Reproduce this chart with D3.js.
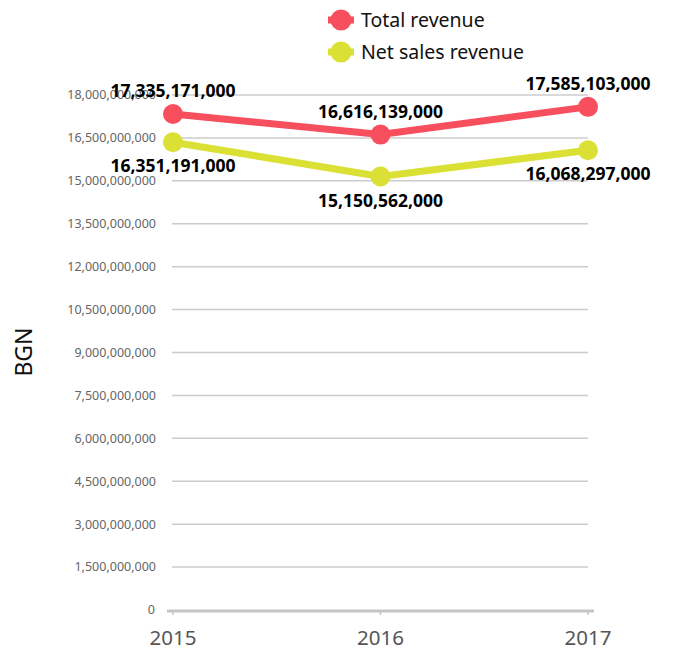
<!DOCTYPE html>
<html>
<head>
<meta charset="utf-8">
<script src="https://cdn.jsdelivr.net/npm/d3@7"></script>
<style>
  body { margin: 0; background: #fff; }
  svg { display: block; font-family: "Noto Sans", sans-serif; }
</style>
</head>
<body>
<div id="chart"></div>
<script>
// chart data
const years = ["2015", "2016", "2017"];
const totalRevenue = [17335171000, 16616139000, 17585103000];
const netSalesRevenue = [16351191000, 15150562000, 16068297000];
const seriesNames = ["Total revenue", "Net sales revenue"];
const seriesColors = ["#f74f5d", "#dae034"];
const yTicks = [0, 1500000000, 3000000000, 4500000000, 6000000000, 7500000000,
  9000000000, 10500000000, 12000000000, 13500000000, 15000000000, 16500000000, 18000000000];

const width = 673, height = 651;
const margin = { top: 95, bottom: 41, left: 173, right: 85 };

const svg = d3.select("#chart").append("svg")
  .attr("width", width)
  .attr("height", height);

// scales
const x = d3.scalePoint()
  .domain(years)
  .range([margin.left, width - margin.right]);

const y = d3.scaleLinear()
  .domain([0, 18000000000])
  .range([height - margin.bottom, margin.top]);

// grid lines
svg.append("g")
  .selectAll("line")
  .data(yTicks.filter(d => d > 0))
  .join("line")
  .attr("x1", x("2015") - 1)
  .attr("x2", x("2017"))
  .attr("y1", d => y(d))
  .attr("y2", d => y(d))
  .attr("stroke", "#cccccc")
  .attr("stroke-width", 1.5);

// y tick labels
svg.append("g")
  .selectAll("text")
  .data(yTicks)
  .join("text")
  .attr("x", d => d === 0 ? 155 : 156)
  .attr("y", d => y(d))
  .attr("dy", "0.35em")
  .attr("text-anchor", "end")
  .attr("fill", "#666")
  .style("font-size", "12.5px")
  .text(d => d3.format(",")(d));

// baseline and ticks
svg.append("line")
  .attr("x1", x("2015") - 6)
  .attr("x2", x("2017") + 6)
  .attr("y1", y(0) + 1)
  .attr("y2", y(0) + 1)
  .attr("stroke", "#c4c4c4")
  .attr("stroke-width", 3);

svg.append("g")
  .selectAll("line")
  .data(years)
  .join("line")
  .attr("x1", d => x(d))
  .attr("x2", d => x(d))
  .attr("y1", y(0) + 1)
  .attr("y2", y(0) + 5)
  .attr("stroke", "#c4c4c4")
  .attr("stroke-width", 1.5);

// x labels
svg.append("g")
  .selectAll("text")
  .data(years)
  .join("text")
  .attr("x", d => x(d))
  .attr("y", 645)
  .attr("text-anchor", "middle")
  .attr("fill", "#555")
  .style("font-size", "20.5px")
  .text(d => d);

// y axis title
svg.append("text")
  .attr("transform", "translate(32, 352) rotate(-90)")
  .attr("text-anchor", "middle")
  .attr("fill", "#111")
  .style("font-size", "23px")
  .text("BGN");

// series
const series = [totalRevenue, netSalesRevenue];
const line = d3.line()
  .x((d, i) => x(years[i]))
  .y(d => y(d));

series.forEach((values, s) => {
  svg.append("path")
    .datum(values)
    .attr("d", line)
    .attr("fill", "none")
    .attr("stroke", seriesColors[s])
    .attr("stroke-width", 7)
    .attr("stroke-linejoin", "round");

  svg.append("g")
    .selectAll("circle")
    .data(values)
    .join("circle")
    .attr("cx", (d, i) => x(years[i]))
    .attr("cy", d => y(d))
    .attr("r", 10)
    .attr("fill", seriesColors[s]);
});

// data labels: total above, net below
series.forEach((values, s) => {
  svg.append("g")
    .selectAll("text")
    .data(values)
    .join("text")
    .attr("x", (d, i) => x(years[i]))
    .attr("y", d => y(d) + (s === 0 ? -17 : 30))
    .attr("text-anchor", "middle")
    .attr("fill", "#000")
    .style("font-size", "17.5px")
    .style("font-weight", "bold")
    .text(d => d3.format(",")(d));
});

// legend
const legend = svg.append("g").attr("transform", "translate(341, 20)");
seriesNames.forEach((name, s) => {
  const g = legend.append("g").attr("transform", `translate(0, ${s * 32})`);
  g.append("line")
    .attr("x1", -13).attr("x2", 13)
    .attr("stroke", seriesColors[s])
    .attr("stroke-width", 7);
  g.append("circle")
    .attr("r", 10.5)
    .attr("fill", seriesColors[s]);
  g.append("text")
    .attr("x", 20)
    .attr("y", 0)
    .attr("dy", "0.35em")
    .attr("fill", "#111")
    .style("font-size", "19.5px")
    .text(name);
});
</script>
</body>
</html>
